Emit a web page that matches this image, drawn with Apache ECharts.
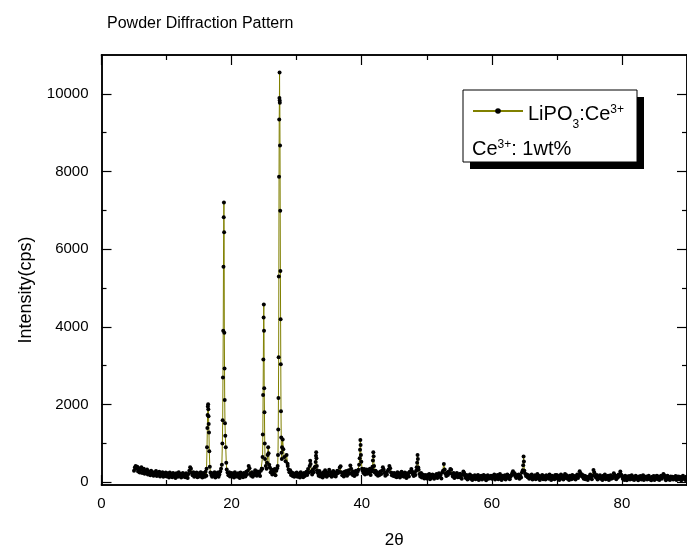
<!DOCTYPE html>
<html>
<head>
<meta charset="utf-8">
<script src="https://cdn.jsdelivr.net/npm/echarts@6/dist/echarts.min.js"></script>
<style>
html, body { margin: 0; padding: 0; background: #fff; }
#chart { width: 687px; height: 554px; }
</style>
</head>
<body>
<div id="chart"></div>
<script>
// background counts, read every 0.125 deg 2theta; each block starts at its label
var scanStep = 0.125;

var bg05 = [300,380,420,350,400,280,360,250,330,390,240,310,350,220,300,260,330,200,280,240,180,300,220,260,170,250,210,290,160,240,200,270,150,230,190,260,140,220,180,250];
var bg10 = [150,230,190,120,250,170,210,130,240,160,200,110,230,180,140,260,170,210,120,190,240,150,200,130,230,170,110,210,300,390,350,240,180,260,140,220,170,250,130,200];
var bg15 = [230,150,260,180,120,240,200,140,270,170,300,300,300,300,250,190,140,230,170,260,120,210,160,250,140,200,280,350,500,500,500,500,500,500,330,250,180,260,150,220];
var bg20 = [240,150,210,120,260,170,200,140,230,180,110,250,160,210,130,240,190,150,270,200,300,420,360,220,170,260,140,230,190,310,250,170,280,200,240,160,300,350,350,350];
var bg25 = [600,600,420,350,600,600,600,380,260,330,200,290,230,340,180,300,360,2000,2000,2000,2000,2000,900,800,800,800,800,800,800,420,330,260,310,190,250,160,230,140,210,170];
var bg30 = [250,140,220,170,120,260,180,210,130,240,160,200,270,190,340,250,420,500,280,200,330,260,380,700,700,310,240,170,290,150,230,190,120,260,170,310,220,140,250,180];
var bg35 = [320,180,260,140,230,290,170,250,150,210,300,240,280,380,410,260,180,230,150,270,200,290,170,240,310,220,430,350,260,190,280,160,240,300,200,270,320,450,450,450];
var bg40 = [350,300,240,340,200,280,330,220,310,260,350,190,280,320,600,600,250,300,200,260,170,230,190,280,210,300,390,330,240,170,260,200,290,330,420,360,250,180,230,160];
var bg45 = [240,150,210,130,260,170,230,120,200,270,160,220,140,250,180,110,230,190,150,270,260,340,280,200,160,250,190,300,500,500,320,210,150,240,120,200,170,100,190,140];
var bg50 = [100,190,140,210,80,170,120,200,150,90,180,130,210,110,160,230,140,190,100,250,300,470,330,220,160,250,190,280,230,340,320,210,150,240,110,190,170,240,130,200];
var bg55 = [130,220,170,90,200,275,240,160,110,190,70,150,120,200,90,170,60,140,110,180,80,160,130,190,60,150,100,170,70,140,190,100,160,50,130,180,90,150,110,170];
var bg60 = [90,160,120,200,70,150,110,190,80,140,210,120,60,170,130,100,180,70,150,200,110,170,80,140,180,230,285,200,230,150,110,190,140,200,90,170,120,250,300,300];
var bg65 = [300,220,160,200,130,180,90,160,120,200,70,150,110,180,80,140,210,100,170,60,150,110,190,80,160,130,70,180,120,150,90,200,140,60,170,110,150,80,190,120];
var bg70 = [190,90,160,60,140,200,100,170,70,150,210,110,180,90,140,60,170,120,80,190,130,100,160,70,150,200,110,170,285,230,160,200,130,90,170,80,150,110,60,140];
var bg75 = [110,200,150,80,170,317,250,160,120,190,70,150,110,180,90,140,60,170,120,200,80,150,100,170,60,130,180,90,150,110,235,190,140,80,170,120,200,160,275,200];
var bg80 = [160,90,140,60,170,110,50,150,90,160,70,130,180,80,140,60,120,170,90,130,50,150,100,160,70,120,180,60,140,100,150,70,130,170,80,110,50,140,90,160];
var bg85 = [60,150,100,170,80,140,60,130,170,90,140,210,180,110,50,130,170,80,120,60,150,100,140,70,130,90,160,60,120,150,80,140,100,50,130,170,90,120,60,140,110];

var scanBlocks = [[5, bg05], [10, bg10], [15, bg15], [20, bg20], [25, bg25], [30, bg30],
	[35, bg35], [40, bg40], [45, bg45], [50, bg50], [55, bg55], [60, bg60], [65, bg65],
	[70, bg70], [75, bg75], [80, bg80], [85, bg85]];

// reflections [2theta, cps]
var peak16 = [[16.15, 350], [16.22, 900], [16.27, 1400], [16.31, 1730], [16.35, 1950], [16.39, 2010], [16.42, 1880], [16.45, 1700], [16.48, 1500], [16.52, 1280], [16.57, 800], [16.65, 400]];
var peak19 = [[18.50, 450], [18.58, 1000], [18.63, 1600], [18.67, 2700], [18.71, 3900], [18.75, 5550], [18.79, 6820], [18.82, 7200], [18.85, 6440], [18.88, 3850], [18.91, 2930], [18.94, 2120], [18.98, 1520], [19.03, 1200], [19.10, 900], [19.18, 500]];
var peak25 = [[24.70, 350], [24.76, 650], [24.80, 1230], [24.84, 2250], [24.88, 3160], [24.92, 4240], [24.95, 4580], [24.98, 3900], [25.01, 2420], [25.05, 1800], [25.09, 1000], [25.14, 600]];
var peak26 = [[25.45, 500], [25.55, 700], [25.62, 900], [25.68, 750], [25.78, 450]];
var peak27 = [[27.08, 420], [27.13, 700], [27.17, 1360], [27.20, 2170], [27.23, 3220], [27.26, 5300], [27.29, 7865], [27.32, 9340], [27.35, 9890], [27.37, 10550], [27.39, 9830], [27.41, 9770], [27.44, 8670], [27.47, 6990], [27.50, 5440], [27.53, 4200], [27.56, 3040], [27.59, 1830], [27.63, 1150], [27.67, 760], [27.72, 600]];
var peak28 = [[27.85, 1100], [27.95, 850], [28.10, 650], [28.30, 540], [28.45, 700], [28.60, 480]];
var peak32 = [[32.08, 555], [32.14, 470]];
var peak33 = [[32.85, 400], [32.92, 520], [32.97, 685], [33.00, 770], [33.04, 620], [33.10, 420]];
var peak40 = [[39.60, 450], [39.68, 620], [39.74, 835], [39.79, 1090], [39.83, 960], [39.88, 700], [39.94, 530], [40.05, 350]];
var peak42 = [[41.65, 400], [41.72, 560], [41.78, 770], [41.83, 670], [41.90, 420]];
var peak49 = [[48.45, 390], [48.52, 500], [48.58, 700], [48.63, 600], [48.70, 380]];
var peak65 = [[64.75, 310], [64.82, 440], [64.88, 665], [64.93, 535], [65.00, 300]];

var xMajor = [0, 20, 40, 60, 80];
var xMinor = [10, 30, 50, 70, 90];
var yMajor = [0, 2000, 4000, 6000, 8000, 10000];
var yMinor = [1000, 3000, 5000, 7000, 9000];

var font = 'Liberation Sans, Arial, sans-serif';

function buildPoints() {
	var peaks = [peak16, peak19, peak25, peak26, peak27, peak28, peak32, peak33,
		peak40, peak42, peak49, peak65];
	var pts = [];
	scanBlocks.forEach(function (b) {
		b[1].forEach(function (v, i) {
			var x = b[0] + i * scanStep;
			var covered = peaks.some(function (p) {
				return x >= p[0][0] && x <= p[p.length - 1][0];
			});
			if (!covered) pts.push([x, v]);
		});
	});
	peaks.forEach(function (p) { pts = pts.concat(p); });
	pts.sort(function (a, b) { return a[0] - b[0]; });
	return pts;
}

function plain(v) { return String(v); }

function xAxisDef(pos, ticks, len, labels) {
	return {
		type: 'value', position: pos, min: 0, max: 90,
		axisLine: { show: true, onZero: false, lineStyle: { color: '#000', width: 1.5 } },
		axisTick: { show: true, inside: true, length: len, customValues: ticks, lineStyle: { color: '#000', width: 1.2 } },
		axisLabel: labels ? { show: true, customValues: xMajor, formatter: plain, color: '#000', fontFamily: font, fontSize: 15, margin: 11 } : { show: false },
		splitLine: { show: false }
	};
}

function yAxisDef(pos, ticks, len, labels) {
	return {
		type: 'value', position: pos, min: -70, max: 11000,
		axisLine: { show: true, onZero: false, lineStyle: { color: '#000', width: 1.5 } },
		axisTick: { show: true, inside: true, length: len, customValues: ticks, lineStyle: { color: '#000', width: 1.2 } },
		axisLabel: labels ? { show: true, customValues: yMajor, formatter: plain, color: '#000', fontFamily: font, fontSize: 15, margin: 13 } : { show: false },
		splitLine: { show: false }
	};
}

var chart = echarts.init(document.getElementById('chart'), null, { renderer: 'canvas' });

var xBottom = xAxisDef('bottom', xMajor, 10, true);
xBottom.name = '2θ';
xBottom.nameLocation = 'middle';
xBottom.nameGap = 47;
xBottom.nameTextStyle = { color: '#000', fontFamily: font, fontSize: 17 };

var option = {
	animation: false,
	backgroundColor: '#fff',
	title: {
		text: 'Powder Diffraction Pattern',
		left: 102, top: 11,
		textStyle: { color: '#000', fontFamily: font, fontSize: 16, fontWeight: 'normal' }
	},
	grid: { left: 101.5, right: -8.5, top: 55, bottom: 63, containLabel: false },
	xAxis: [
		xBottom,
		xAxisDef('bottom', xMinor, 5, false),
		xAxisDef('top', xMajor, 10, false),
		xAxisDef('top', xMinor, 5, false)
	],
	yAxis: [
		yAxisDef('left', yMajor, 10, true),
		yAxisDef('left', yMinor, 5, false),
		yAxisDef('right', yMajor, 10, false),
		yAxisDef('right', yMinor, 5, false)
	],
	legend: {
		data: ['LiPO3:Ce3+'],
		left: 467, top: 94, z: 20,
		itemWidth: 50, itemHeight: 7,
		formatter: function () { return '{a|LiPO}{sub|3}{a|:Ce}{sup|3+}'; },
		textStyle: {
			color: '#000', fontFamily: font,
			rich: {
				a: { fontSize: 20, fontFamily: font, color: '#000', lineHeight: 24, verticalAlign: 'top', padding: [5, 0, 0, 0] },
				sub: { fontSize: 12, fontFamily: font, color: '#000', lineHeight: 14, verticalAlign: 'top', padding: [20, 0, 0, 0] },
				sup: { fontSize: 12, fontFamily: font, color: '#000', lineHeight: 12, verticalAlign: 'top', padding: [5, 0, 0, 0] }
			}
		}
	},
	graphic: [
		{ type: 'rect', z: 10, shape: { x: 470, y: 97, width: 174, height: 72 }, style: { fill: '#000' } },
		{ type: 'rect', z: 11, shape: { x: 463, y: 90, width: 174, height: 72 }, style: { fill: '#fff', stroke: '#000', lineWidth: 1 } },
		{
			type: 'text', z: 12, left: 472, top: 139,
			style: {
				text: '{a|Ce}{sup|3+}{a|: 1wt%}',
				rich: {
					a: { fontSize: 20, fontFamily: font, fill: '#000', lineHeight: 24, verticalAlign: 'top' },
					sup: { fontSize: 12, fontFamily: font, fill: '#000', lineHeight: 10, verticalAlign: 'top' }
				}
			}
		},
		{
			type: 'text', z: 12, x: 26, y: 290, rotation: Math.PI / 2,
			style: {
				text: 'Intensity(cps)', fontSize: 18, fontFamily: font, fill: '#000',
				align: 'center', verticalAlign: 'middle'
			}
		}
	],
	series: [{
		name: 'LiPO3:Ce3+',
		type: 'line',
		xAxisIndex: 0,
		yAxisIndex: 0,
		data: buildPoints(),
		symbol: 'circle',
		symbolSize: 4,
		showSymbol: true,
		showAllSymbol: true,
		clip: true,
		itemStyle: { color: '#000' },
		lineStyle: { color: '#808000', width: 1 },
		emphasis: { disabled: true }
	}]
};

chart.setOption(option);
</script>
</body>
</html>
